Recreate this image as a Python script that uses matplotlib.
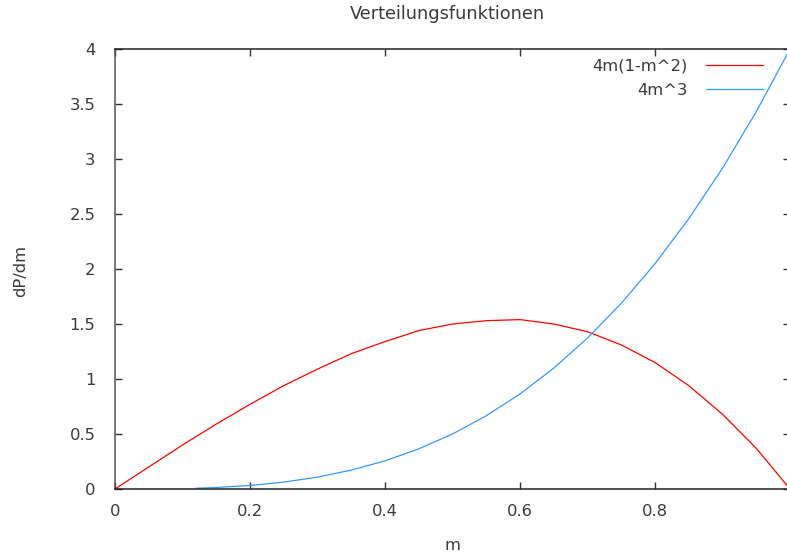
import matplotlib
matplotlib.use("Agg")
import matplotlib.pyplot as plt

m_red = [0.0, 0.05, 0.1, 0.15, 0.2, 0.25, 0.3, 0.35, 0.4, 0.45, 0.5,
         0.55, 0.6, 0.65, 0.7, 0.75, 0.8, 0.85, 0.9, 0.95, 1.0]
red_vals = [0.0, 0.20, 0.40, 0.59, 0.77, 0.94, 1.09, 1.23, 1.34, 1.44, 1.50,
            1.53, 1.54, 1.50, 1.43, 1.31, 1.15, 0.94, 0.68, 0.37, 0.0]
m_blue = [0.12, 0.15, 0.2, 0.25, 0.3, 0.35, 0.4, 0.45, 0.5, 0.55, 0.6,
          0.65, 0.7, 0.75, 0.8, 0.85, 0.9, 0.95, 1.0]
blue_vals = [0.007, 0.014, 0.032, 0.063, 0.108, 0.172, 0.256, 0.365, 0.50, 0.666, 0.864,
             1.099, 1.372, 1.688, 2.048, 2.457, 2.916, 3.430, 4.0]
xticks = [0, 0.2, 0.4, 0.6, 0.8, 1]
xticklabels = ["0", "0.2", "0.4", "0.6", "0.8", "1"]
yticks = [0, 0.5, 1, 1.5, 2, 2.5, 3, 3.5, 4]
yticklabels = ["0", "0.5", "1", "1.5", "2", "2.5", "3", "3.5", "4"]

plt.rcParams['font.family'] = ['DejaVu Sans']
txt = '#3a3a3a'
fs = 11.8

W, H = 787, 558
fig = plt.figure(figsize=(W / 100, H / 100), dpi=100)
ax = fig.add_axes([115 / W, (H - 489) / H, 675 / W, 440 / H])
ax.plot(m_red, red_vals, color='#ff0000', lw=0.9, label='4m(1-m^2)')
ax.plot(m_blue, blue_vals, color='#3399ff', lw=0.9, label='4m^3')
ax.set_xlim(0, 1)
ax.set_ylim(0, 4)
ax.set_xticks(xticks)
ax.set_xticklabels(xticklabels)
ax.set_yticks(yticks)
ax.set_yticklabels(yticklabels)
ax.tick_params(direction='in', length=5, width=1, top=True, right=True,
               labelsize=fs, labelcolor=txt, color='#333333')
ax.tick_params(axis='x', pad=11)
ax.tick_params(axis='y', pad=14)
for s in ax.spines.values():
    s.set_linewidth(1.1)
    s.set_color('#222222')
    s.set_zorder(5)
ax.spines['left'].set_color('#555555')

leg = ax.legend(loc='upper right', bbox_to_anchor=(0.96, 0.978), frameon=False,
                markerfirst=False, handlelength=3.5, handletextpad=1.1,
                labelspacing=0.55, borderaxespad=0, borderpad=0,
                fontsize=fs, labelcolor=txt)

fig.text(447 / W, 1 - 14 / H, 'Verteilungsfunktionen', ha='center', va='center',
         fontsize=12.8, color=txt)
fig.text(452 / W, 1 - 546 / H, 'm', ha='center', va='center', fontsize=fs, color=txt)
fig.text(21 / W, 1 - 271 / H, 'dP/dm', ha='center', va='center', rotation=90,
         fontsize=fs, color=txt)

fig.savefig('out.png', dpi=100)
